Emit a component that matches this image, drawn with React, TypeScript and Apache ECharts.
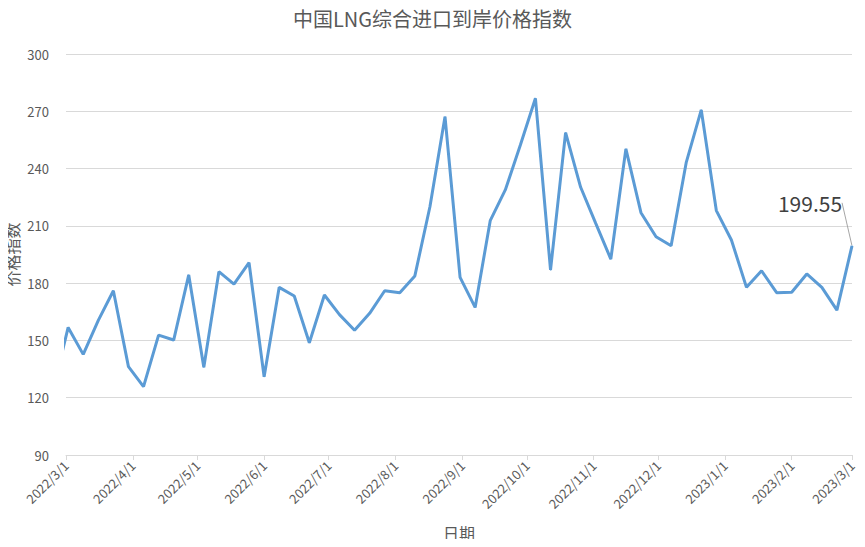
import React, { useEffect, useRef } from "react";
import * as echarts from "echarts";

const TITLE = "中国LNG综合进口到岸价格指数";
const Y_NAME = "价格指数";
const X_NAME = "日期";

const dates: string[] = [
  "2022-02-23", "2022-03-02", "2022-03-09", "2022-03-16", "2022-03-23", "2022-03-30",
  "2022-04-06", "2022-04-13", "2022-04-20", "2022-04-27", "2022-05-04", "2022-05-11",
  "2022-05-18", "2022-05-25", "2022-06-01", "2022-06-08", "2022-06-15", "2022-06-22",
  "2022-06-29", "2022-07-06", "2022-07-13", "2022-07-20", "2022-07-27", "2022-08-03",
  "2022-08-10", "2022-08-17", "2022-08-24", "2022-08-31", "2022-09-07", "2022-09-14",
  "2022-09-21", "2022-09-28", "2022-10-05", "2022-10-12", "2022-10-19", "2022-10-26",
  "2022-11-02", "2022-11-09", "2022-11-16", "2022-11-23", "2022-11-30", "2022-12-07",
  "2022-12-14", "2022-12-21", "2022-12-28", "2023-01-04", "2023-01-11", "2023-01-18",
  "2023-01-25", "2023-02-01", "2023-02-08", "2023-02-15", "2023-02-22", "2023-03-01",
];

const values: number[] = [
  124, 156.8, 142.7, 160.5, 176.0, 136.3,
  125.8, 152.8, 150.2, 184.3, 135.9, 186.0,
  179.5, 190.7, 131.0, 177.8, 173.3, 148.8,
  173.8, 163.5, 155.3, 164.2, 176.0, 175.0,
  183.8, 220.0, 267.2, 183.0, 167.3, 212.7,
  228.8, 252.3, 276.8, 186.9, 258.8, 230.2,
  211.3, 192.6, 250.3, 216.9, 204.3, 199.6,
  243.1, 270.7, 218.0, 202.6, 177.8, 186.5,
  175.0, 175.2, 184.8, 177.8, 165.9, 199.55,
];

const monthTicks: string[] = [
  "2022-03-01", "2022-04-01", "2022-05-01", "2022-06-01", "2022-07-01",
  "2022-08-01", "2022-09-01", "2022-10-01", "2022-11-01", "2022-12-01",
  "2023-01-01", "2023-02-01", "2023-03-01",
];

const Y_MIN = 90;
const Y_MAX = 300;
const Y_STEP = 30;

const FONT = "'Noto Sans CJK SC', 'Noto Sans', sans-serif";

function ts(d: string): number {
  const [y, m, day] = d.split("-").map(Number);
  return Date.UTC(y, m - 1, day);
}

function fmt(v: number): string {
  const d = new Date(v);
  return `${d.getUTCFullYear()}/${d.getUTCMonth() + 1}/${d.getUTCDate()}`;
}

export default function App() {
  const ref = useRef<HTMLDivElement>(null);
  useEffect(() => {
    if (!ref.current) return;
    const chart = echarts.init(ref.current, undefined, { renderer: "svg" });
    const lastIdx = values.length - 1;
    const data = dates.map((d, i) => {
      const item: any = { value: [ts(d), values[i]] };
      if (i === lastIdx) {
        item.label = {
          show: true,
          position: "top",
          formatter: () => values[i].toFixed(2),
          fontSize: 21,
          color: "#404040",
          fontFamily: FONT,
          padding: [0, 26, 6, 0],
        };
        item.labelLine = { show: true, lineStyle: { color: "#a6a6a6", width: 1 } };
      }
      return item;
    });
    const tickVals = monthTicks.map(ts);
    chart.setOption({
      animation: false,
      backgroundColor: "#ffffff",
      title: {
        text: TITLE,
        left: "center",
        top: 3,
        textStyle: { fontSize: 20, fontWeight: "normal", color: "#595959", fontFamily: FONT },
      },
      grid: { left: 66, right: 13, top: 54, bottom: 92, containLabel: false, outerBoundsMode: "none" },
      xAxis: {
        type: "value",
        min: ts("2022-03-01"),
        max: ts("2023-03-01"),
        name: X_NAME,
        nameLocation: "middle",
        nameGap: 70,
        nameMoveOverlap: false,
        nameTextStyle: { fontSize: 16, color: "#595959", fontFamily: FONT },
        axisLine: { show: true, lineStyle: { color: "#d9d9d9", width: 1 } },
        axisTick: { show: true, customValues: tickVals, length: 5, lineStyle: { color: "#d9d9d9" } },
        axisLabel: {
          customValues: tickVals,
          formatter: (v: number) => fmt(v),
          rotate: 45,
          fontSize: 13,
          color: "#595959",
          fontFamily: FONT,
          margin: 8,
          hideOverlap: false,
        },
        splitLine: { show: false },
      },
      yAxis: {
        type: "value",
        min: Y_MIN,
        max: Y_MAX,
        interval: Y_STEP,
        name: Y_NAME,
        nameLocation: "middle",
        nameGap: 46,
        nameRotate: 90,
        nameMoveOverlap: false,
        nameTextStyle: { fontSize: 16, color: "#595959", fontFamily: FONT },
        axisLine: { show: false },
        axisTick: { show: false },
        axisLabel: { fontSize: 13, color: "#595959", fontFamily: FONT, margin: 17 },
        splitLine: { show: true, lineStyle: { color: "#d9d9d9", width: 1 } },
      },
      series: [
        {
          type: "line",
          data,
          symbol: "circle",
          symbolSize: 1,
          showSymbol: true,
          showAllSymbol: true,
          clip: true,
          lineStyle: { color: "#5b9bd5", width: 3 },
          itemStyle: { color: "#5b9bd5" },
          emphasis: { disabled: true },
          labelLayout: { dx: -29, dy: -21 },
        },
      ],
    });
    return () => chart.dispose();
  }, []);
  return <div ref={ref} style={{ width: 865, height: 547, margin: -8 }} />;
}
